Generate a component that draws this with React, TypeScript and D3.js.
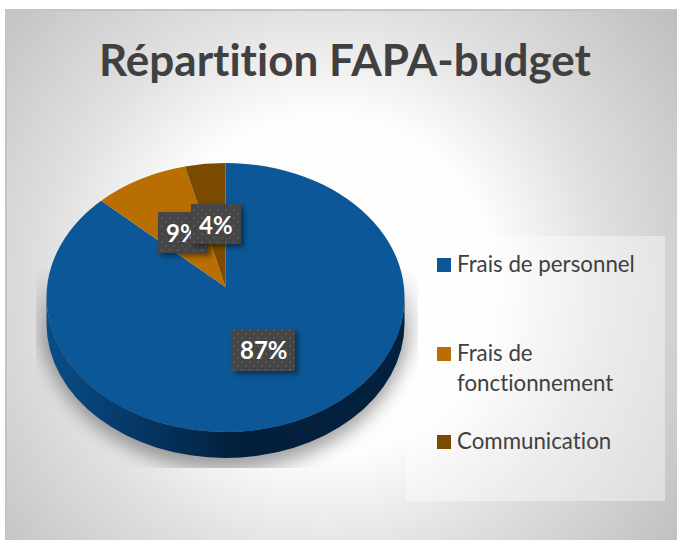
import React from 'react';
import * as d3 from 'd3';

const categories = ['Frais de personnel', 'Frais de fonctionnement', 'Communication'];
const shares = [87, 9, 4];
const sliceColors = ['#0b5797', '#b86e00', '#7a4a00'];
const legendLines = [['Frais de personnel'], ['Frais de', 'fonctionnement'], ['Communication']];

const FONT = 'Lato, sans-serif';
const WIDTH = 677;
const HEIGHT = 540;

// pie is a tilted ellipse, the apex sits a bit above the ellipse centre (perspective)
const cx = 225.5;
const cy = 297.5;
const rx = 179;
const ry = 134.5;
const apexY = 287;
const depth = 26;
const foreshorten = 0.049;

const pieGen = d3.pie<number>().sort(null).value(d => d);
const slices = pieGen(shares);

const onRim = (angle: number) => {
  const a = angle - foreshorten * Math.sin(2 * angle);
  return [cx + rx * Math.sin(a), cy - ry * Math.cos(a)];
};

function slicePath(a0: number, a1: number) {
  const [x0, y0] = onRim(a0);
  const [x1, y1] = onRim(a1);
  const large = a1 - a0 > Math.PI ? 1 : 0;
  return `M${cx},${apexY}L${x0},${y0}A${rx},${ry} 0 ${large} 1 ${x1},${y1}Z`;
}

const sidePath =
  `M${cx - rx},${cy}A${rx},${ry} 0 0 0 ${cx + rx},${cy}` +
  `L${cx + rx},${cy + depth}A${rx},${ry} 0 0 1 ${cx - rx},${cy + depth}Z`;

const labelBoxes = [
  { x: 232, y: 329, w: 63, h: 42 },
  { x: 158, y: 212, w: 50, h: 41 },
  { x: 191, y: 204, w: 50, h: 40 },
];
const legendY = [258, 347, 435];

export default function App() {
  // 9% first so the 4% box sits on top of it, same as the original
  const drawOrder = [0, 1, 2];
  return (
    <svg width={WIDTH} height={HEIGHT} style={{ position: 'absolute', left: 0, top: 0, fontVariantLigatures: 'none' }}>
      <defs>
        <radialGradient id="bg" gradientUnits="userSpaceOnUse" cx={325} cy={285} r={450}>
          <stop offset="0" stopColor="#ffffff" />
          <stop offset="0.38" stopColor="#fdfdfd" />
          <stop offset="0.62" stopColor="#e0e0e0" />
          <stop offset="1" stopColor="#bdbdbd" />
        </radialGradient>
        <linearGradient id="side" gradientUnits="userSpaceOnUse" x1={cx - rx} x2={cx + rx} y1={0} y2={0}>
          <stop offset="0" stopColor="#0a4d88" />
          <stop offset="0.3" stopColor="#05335f" />
          <stop offset="0.55" stopColor="#031e3a" />
          <stop offset="1" stopColor="#03213f" />
        </linearGradient>
        <linearGradient id="shadowFade" gradientUnits="userSpaceOnUse" x1={0} x2={0} y1={265} y2={345}>
          <stop offset="0" stopColor="#000" />
          <stop offset="1" stopColor="#fff" />
        </linearGradient>
        <mask id="shadowMask" maskUnits="userSpaceOnUse" x={0} y={0} width={WIDTH} height={HEIGHT}>
          <rect x={36} y={265} width={382} height={203} fill="url(#shadowFade)" />
        </mask>
        <filter id="blur" x="-20%" y="-20%" width="140%" height="140%">
          <feGaussianBlur stdDeviation="9" />
        </filter>
        <filter id="boxShadow" x="-30%" y="-30%" width="170%" height="170%">
          <feDropShadow dx="3" dy="3" stdDeviation="2.5" floodColor="#000" floodOpacity="0.45" />
        </filter>
        <pattern id="dots" width="8" height="8" patternUnits="userSpaceOnUse">
          <rect width="8" height="8" fill="#444444" />
          <rect x="1" y="1" width="2" height="2" fill="#5a5a5a" />
          <rect x="5" y="5" width="2" height="2" fill="#515151" />
        </pattern>
      </defs>

      <rect x={6} y={10} width={WIDTH - 6} height={HEIGHT - 10} fill="url(#bg)" />
      <path d={`M6,${HEIGHT}V10H${WIDTH}`} fill="none" stroke="#c4c4c4" strokeWidth={2} />

      <text x={345} y={76} textAnchor="middle" fontFamily={FONT} fontWeight={700} fontSize={44} fill="#404040">
        Répartition FAPA-budget
      </text>

      <rect x={406} y={236} width={259} height={265} fill="#ffffff" opacity={0.4} />

      <g mask="url(#shadowMask)">
        <ellipse cx={cx} cy={cy + 14} rx={rx + 8} ry={ry + 24} fill="#000" opacity={0.36} filter="url(#blur)" />
      </g>

      <path d={sidePath} fill="url(#side)" />
      {slices.map((s, i) => (
        <path key={categories[i]} d={slicePath(s.startAngle, s.endAngle)} fill={sliceColors[i]} />
      ))}

      {drawOrder.map(i => {
        const b = labelBoxes[i];
        return (
          <g key={i}>
            <rect x={b.x} y={b.y} width={b.w} height={b.h} fill="url(#dots)" filter="url(#boxShadow)" />
            <text x={b.x + 8} y={b.y + 30} fontFamily={FONT} fontWeight={700} fontSize={24} fill="#ffffff">
              {shares[i]}%
            </text>
          </g>
        );
      })}

      {categories.map((c, i) => (
        <g key={c}>
          <rect x={437} y={legendY[i]} width={14} height={14} fill={sliceColors[i]} />
          <text fontFamily={FONT} fontSize={22.3} fill="#404040">
            {legendLines[i].map((line, j) => (
              <tspan key={line} x={457} y={legendY[i] + 14 + j * 30}>{line}</tspan>
            ))}
          </text>
        </g>
      ))}
    </svg>
  );
}
